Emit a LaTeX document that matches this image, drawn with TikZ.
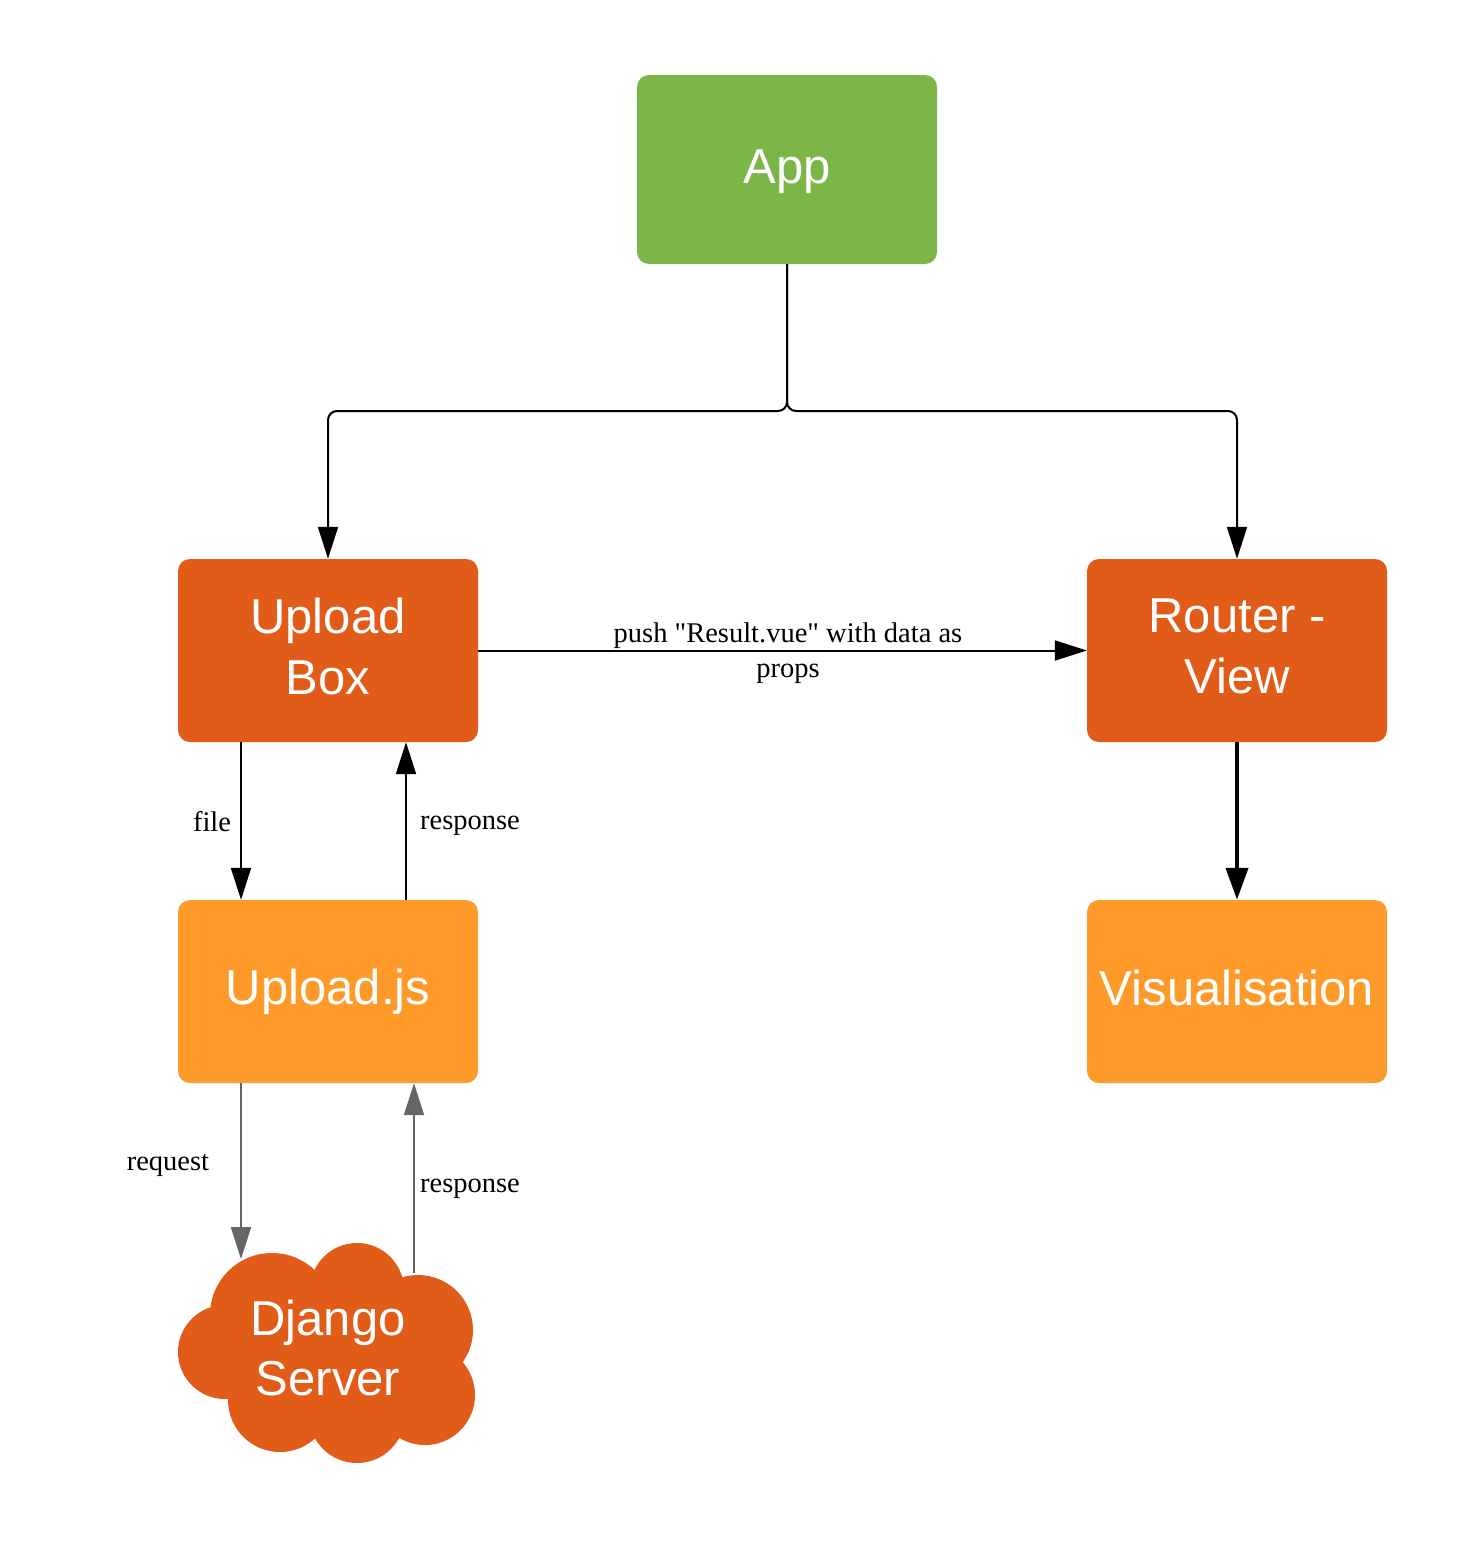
\documentclass[tikz,border=0pt]{standalone}
\usepackage{fontspec}
\setmainfont{Liberation Serif}[Ligatures=TeXOff]
\newfontfamily\boxfont{Liberation Sans}
\usetikzlibrary{arrows.meta,calc}
\definecolor{appgreen}{HTML}{7CB648}
\definecolor{redorange}{HTML}{E15C19}
\definecolor{lightorange}{HTML}{FE9A2A}
\definecolor{connGray}{HTML}{666666}
\begin{document}
\begin{tikzpicture}[x=1pt,y=-1pt,
  box/.style={rounded corners=12pt, minimum width=300pt, minimum height=183pt, inner sep=0pt},
  boxtext/.style={inner sep=0pt, text=white, font=\boxfont\fontsize{49}{61}\selectfont, align=center},
  lbl/.style={font=\fontsize{28.5}{35}\selectfont, inner sep=0pt, align=center},
  conn/.style={line width=2pt, -{Triangle[length=32pt,width=20pt]}},
  gconn/.style={conn, draw=connGray, connGray}]
\useasboundingbox (0,0) rectangle (1463,1547);
\fill[white] (0,0) rectangle (1463,1547);

\node[box, fill=appgreen, minimum height=189pt] (app) at (787,169.5) {};
\node[boxtext] (appt) at ($(app)+(0,2)$) {App};
\node[box, fill=redorange] (ub) at (328,650.5) {};
\node[boxtext] (ubt) at ($(ub)+(0,-4)$) {Upload\\Box};
\node[box, fill=redorange] (rv) at (1237,650.5) {};
\node[boxtext] (rvt) at ($(rv)+(0,-4)$) {Router -\\View};
\node[box, fill=lightorange] (uj) at (328,991.5) {};
\node[boxtext] (ujt) at ($(uj)+(0,0)$) {Upload.js};
\node[box, fill=lightorange] (vis) at (1237,991.5) {};
\node[boxtext] (vist) at ($(vis)+(0,-4)$) {Visualisation};

% cloud
\begin{scope}[fill=redorange]
  \fill (225,1352) circle (47);
  \fill (272,1315) circle (62);
  \fill (357,1290) circle (47);
  \fill (418,1330) circle (55);
  \fill (425,1395) circle (50);
  \fill (357,1415) circle (48);
  \fill (280,1400) circle (52);
  \fill (330,1352) circle (75);
\end{scope}
\node[boxtext, font=\boxfont\fontsize{49}{60}\selectfont] (ds) at (328,1348) {Django\\Server};
\coordinate (dsin) at (241,1259);
\coordinate (dsout) at (414,1273);

% App to children
\coordinate (j) at (787,411);
\draw[conn, rounded corners=9pt] (app.south) -- (j) -| (ub.north);
\draw[conn, rounded corners=9pt] (app.south) -- (j) -| (rv.north);

% push
\draw[conn] (ub.east) -- (rv.west);
\node[lbl] (pushlbl) at (788,653.5) {push "Result.vue" with data as\\props};

% file / response
\draw[conn] ($(ub.south)+(-87,0)$) -- ($(uj.north)+(-87,0)$);
\node[lbl] (filelbl) at (212,822) {file};
\draw[conn] ($(uj.north)+(78,0)$) -- ($(ub.south)+(78,0)$);
\node[lbl] (resp1) at (470,826) {response};

% request / response to server
\draw[gconn] ($(uj.south)+(-87,0)$) -- (dsin);
\node[lbl] (reqlbl) at (168,1165) {request};
\draw[gconn] (dsout) -- ($(uj.south)+(86,0)$);
\node[lbl] (resp2) at (470,1189) {response};

% router to vis
\draw[line width=4pt, -{Triangle[length=32pt,width=22pt]}] (rv.south) -- (vis.north);
\end{tikzpicture}
\end{document}
